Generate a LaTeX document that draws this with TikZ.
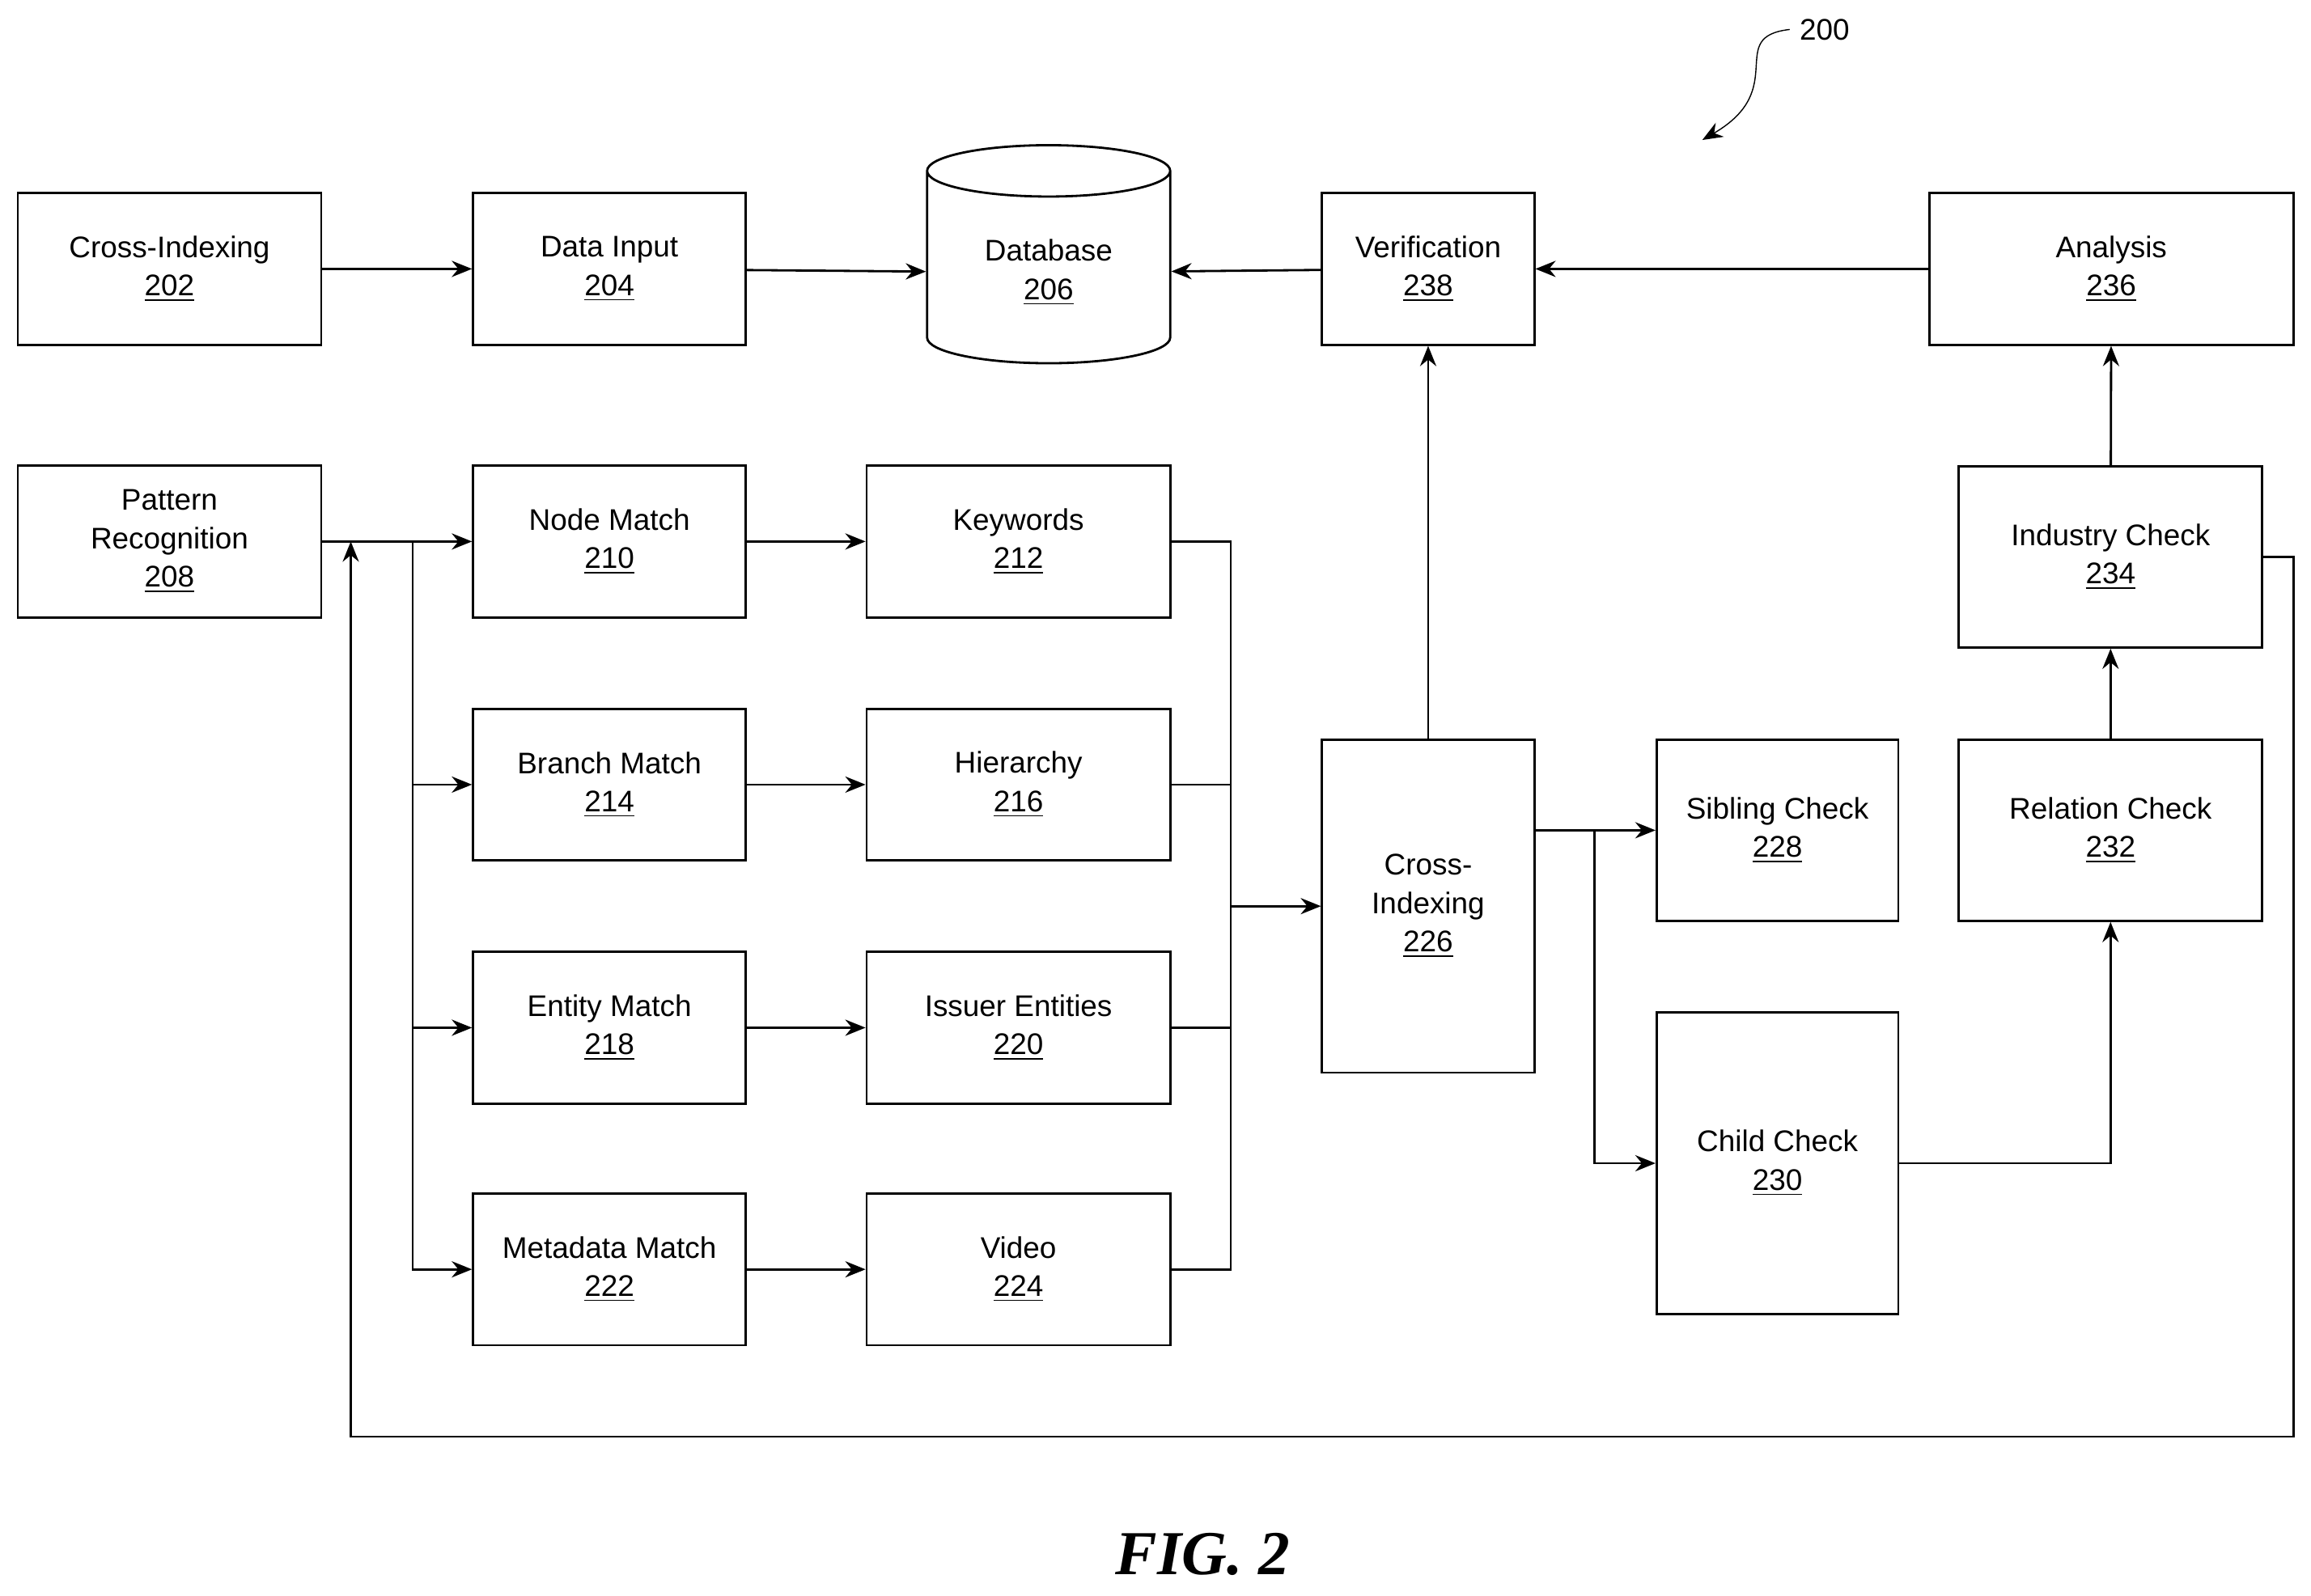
\documentclass[tikz,border=0pt]{standalone}
\usepackage{fontspec}
\setmainfont{Liberation Sans}
\newfontfamily\figfont{Liberation Serif}
\usetikzlibrary{arrows.meta,positioning,shapes.geometric,calc}

\begin{document}
\begin{tikzpicture}[
    x=0.018214cm, y=-0.018214cm,
    box/.style={rectangle, draw, thick, font=\fontsize{10.5}{13.5}\selectfont, align=center, inner sep=1pt},
    wbox/.style={box, minimum width=3.37cm, minimum height=1.876cm},
    mbox/.style={box, minimum width=3.752cm, minimum height=1.876cm},
    arrow/.style={-{Stealth[length=2.5mm,width=2mm]}, thick},
    line/.style={thick}
]
\useasboundingbox (0,0) rectangle (1568,1083);

% Top row
\node[mbox] (ci202) at (115,182.5) {Cross-Indexing\\\underline{202}};
\node[wbox] (input) at (413.5,182.5) {Data Input\\\underline{204}};
\node[cylinder, shape border rotate=90, draw, thick, aspect=0.35, minimum width=3.005cm, minimum height=2.696cm,
      font=\fontsize{10.5}{13.5}\selectfont, align=center] (db) at (711.5,185) {Database\\\underline{206}};
\node[box, minimum width=2.623cm, minimum height=1.876cm] (verif) at (969,182.5) {Verification\\\underline{238}};
\node[box, minimum width=4.499cm, minimum height=1.876cm] (analysis) at (1432.5,182.5) {Analysis\\\underline{236}};

% Match column
\node[mbox] (pattern) at (115,367.5) {Pattern\\Recognition\\\underline{208}};
\node[wbox] (node) at (413.5,367.5) {Node Match\\\underline{210}};
\node[wbox] (branch) at (413.5,532.5) {Branch Match\\\underline{214}};
\node[wbox] (entity) at (413.5,697.5) {Entity Match\\\underline{218}};
\node[wbox] (meta) at (413.5,861.5) {Metadata Match\\\underline{222}};
\node[mbox] (keywords) at (691,367.5) {Keywords\\\underline{212}};
\node[mbox] (hier) at (691,532.5) {Hierarchy\\\underline{216}};
\node[mbox] (issuer) at (691,697.5) {Issuer Entities\\\underline{220}};
\node[mbox] (video) at (691,861.5) {Video\\\underline{224}};

% Checks
\node[box, minimum width=2.623cm, minimum height=4.116cm] (ci226) at (969,615) {Cross-\\Indexing\\\underline{226}};
\node[box, minimum width=2.987cm, minimum height=2.240cm] (sibling) at (1206,563.5) {Sibling Check\\\underline{228}};
\node[box, minimum width=2.987cm, minimum height=3.734cm] (child) at (1206,789.5) {Child Check\\\underline{230}};
\node[box, minimum width=3.752cm, minimum height=2.240cm] (relation) at (1432,563.5) {Relation Check\\\underline{232}};
\node[box, minimum width=3.752cm, minimum height=2.240cm] (industry) at (1432,378) {Industry Check\\\underline{234}};

% Top arrows
\draw[arrow] (ci202) -- (input);
\draw[arrow] (input) -- (db);
\draw[arrow] (verif) -- (db);
\draw[arrow] (analysis) -- (verif);
\draw[arrow] (ci226) -- (verif);

% Fan out
\coordinate (split) at (280,367.5);
\draw[arrow] (pattern) -- (node);
\draw[arrow] (split) |- (branch);
\draw[arrow] (split) |- (entity);
\draw[arrow] (split) |- (meta);
\draw[arrow] (node) -- (keywords);
\draw[arrow] (branch) -- (hier);
\draw[arrow] (entity) -- (issuer);
\draw[arrow] (meta) -- (video);

% Collect
\coordinate (join) at (835,615);
\draw[line] (keywords.east) -| (join);
\draw[line] (hier.east) -| (join);
\draw[line] (issuer.east) -| (join);
\draw[line] (video.east) -| (join);
\draw[arrow] (join) -- (ci226);

% Checks
\coordinate (csplit) at (1082,563.5);
\draw[arrow] (ci226.east |- csplit) -- (sibling);
\draw[arrow] (csplit) |- (child);
\draw[arrow] (child) -| (relation);
\draw[arrow] (relation) -- (industry);
\draw[arrow] (industry) -- (analysis);

% Feedback loop
\draw[arrow] (industry.east) -- (1556,378) -- (1556,975) -- (238,975) -- (238,367.5);

% Reference label
\node[font=\fontsize{10.5}{12}\selectfont] (ref) at (1238,20) {200};
\draw[arrow, thin] (ref.west) .. controls (1170,25) and (1215,60) .. (1155,95);

\node[font=\figfont\bfseries\itshape\fontsize{22}{26}\selectfont] (fig) at (816,1055) {FIG. 2};
\end{tikzpicture}
\end{document}
